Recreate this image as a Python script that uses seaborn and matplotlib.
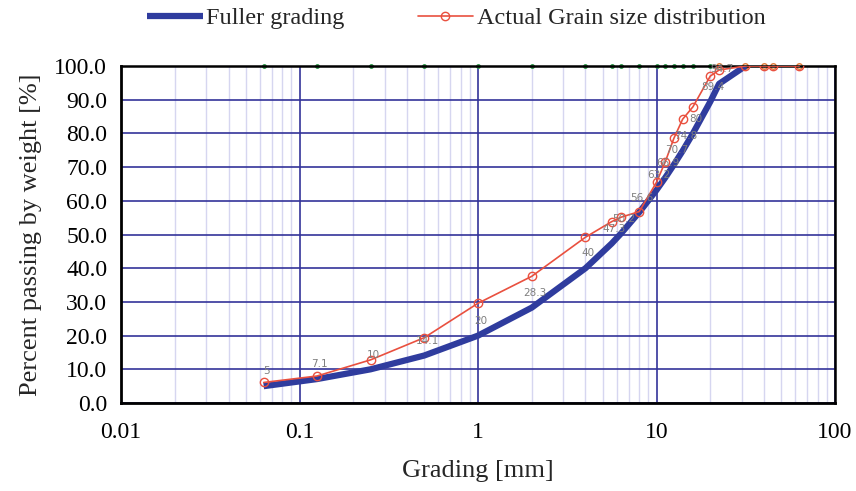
import numpy as np
import pandas as pd
import matplotlib
matplotlib.use("Agg")
import matplotlib.pyplot as plt
from matplotlib.ticker import LogLocator, FixedLocator, NullFormatter, FuncFormatter
import seaborn as sns

# sieve sizes [mm] and passing [%]
fuller_size = [0.063, 0.125, 0.25, 0.5, 1, 2, 4, 5.6, 6.3, 8, 10, 11.2, 12.5, 14, 16, 20, 22.4, 31.5]
fuller_pass = [5.0, 7.1, 10.0, 14.1, 20.0, 28.3, 40.0, 47.3, 50.2, 56.6, 63.2, 66.9, 70.7, 74.8, 80.0, 89.4, 94.7, 100.0]
fuller_lbl  = ["5", "7.1", "10", "14.1", "20", "28.3", "40", "47.3", "50.2", "56.6", "63.2",
               "66.9", "70.7", "74.8", "80", "89.4", "94.7", ""]

actual_size = [0.063, 0.125, 0.25, 0.5, 1, 2, 4, 5.6, 6.3, 8, 10, 11.2, 12.5, 14, 16, 20, 22.4, 31.5, 40, 45, 63]
actual_pass = [6.1, 8.0, 12.8, 19.4, 29.6, 37.6, 49.2, 53.8, 55.1, 56.8, 65.5, 71.6, 78.5, 84.2, 87.9, 97.0, 98.8,
               100.0, 100.0, 100.0, 100.0]

# marker rows sitting on the 100 % line
top_green = [0.063, 0.125, 0.25, 0.5, 1, 2, 4, 5.6, 6.3, 8, 10, 11.2, 12.5, 14, 16, 20]
top_orange = [22.4, 31.5, 40, 45, 63]

C = {
    "fuller": "#2F3C9E",
    "actual": "#E9503F",
    "major":  "#33339A",
    "minor":  "#D6D6F0",
    "label":  "#7F7F7F",
}

sns.set_theme(style="white")
plt.rcParams["font.family"] = ["Liberation Serif", "DejaVu Serif"]

fig = plt.figure(figsize=(8.56, 4.91), dpi=100)
ax = fig.add_axes([0.1414, 0.1792, 0.8341, 0.6864])

df_f = pd.DataFrame({"size": fuller_size, "passing": fuller_pass})
df_a = pd.DataFrame({"size": actual_size, "passing": actual_pass})

sns.lineplot(data=df_f, x="size", y="passing", ax=ax, color=C["fuller"], lw=4.5,
             label="Fuller grading", zorder=4, solid_capstyle="butt")
sns.lineplot(data=df_a, x="size", y="passing", ax=ax, color=C["actual"], lw=1.2,
             marker="o", markersize=6, markerfacecolor="none", markeredgecolor=C["actual"],
             markeredgewidth=1.0, label="Actual Grain size distribution", zorder=5)

ax.plot(top_green, [100] * len(top_green), ls="none", marker="o", ms=2.5, color="#2E9A4A",
        clip_on=False, zorder=1.5)
ax.plot(top_orange, [100] * len(top_orange), ls="none", marker="o", ms=4, mfc="none",
        mec="#E07B39", clip_on=False, zorder=1.5)

for x, y, t in zip(fuller_size, fuller_pass, fuller_lbl):
    ax.annotate(t, (x, y), xytext=(2, 7), textcoords="offset points", fontsize=7.5,
                color=C["label"], family="DejaVu Sans", ha="center", va="bottom", zorder=6)

ax.set_xscale("log")
ax.set_xlim(0.01, 100)
ax.set_ylim(0, 100)

ax.xaxis.set_major_locator(FixedLocator([0.01, 0.1, 1, 10, 100]))
ax.xaxis.set_major_formatter(FuncFormatter(lambda v, p: f"{v:g}"))
ax.xaxis.set_minor_locator(LogLocator(base=10, subs=np.arange(2, 10)))
ax.xaxis.set_minor_formatter(NullFormatter())
ax.yaxis.set_major_locator(FixedLocator(np.arange(0, 101, 10)))
ax.yaxis.set_major_formatter(FuncFormatter(lambda v, p: f"{v:.1f}"))

ax.grid(True, which="major", axis="both", color=C["major"], lw=1.2, zorder=1)
ax.grid(True, which="minor", axis="x", color=C["minor"], lw=1.0, zorder=0)
ax.set_axisbelow(True)

for s in ["left", "bottom"]:
    ax.spines[s].set_linewidth(2.0)
for s in ["top", "right"]:
    ax.spines[s].set_linewidth(1.8)
for s in ax.spines.values():
    s.set_color("black")
    s.set_zorder(3)

ax.tick_params(axis="both", which="major", direction="inout", length=10, width=1.5,
               colors="black", labelsize=17, pad=5)
ax.tick_params(axis="x", which="minor", length=0)
ax.tick_params(axis="x", which="major", pad=9)

ax.set_xlabel("Grading [mm]", fontsize=19, labelpad=12)
ax.set_ylabel("Percent passing by weight [%]", fontsize=19, labelpad=9)

ax.legend(loc="center", bbox_to_anchor=(0.533, 0.963), bbox_transform=fig.transFigure,
          ncol=2, frameon=False, fontsize=17.5, handlelength=2.3, columnspacing=3.0,
          handletextpad=0.15)

fig.savefig("out.png", dpi=100, facecolor="white")
plt.close(fig)
